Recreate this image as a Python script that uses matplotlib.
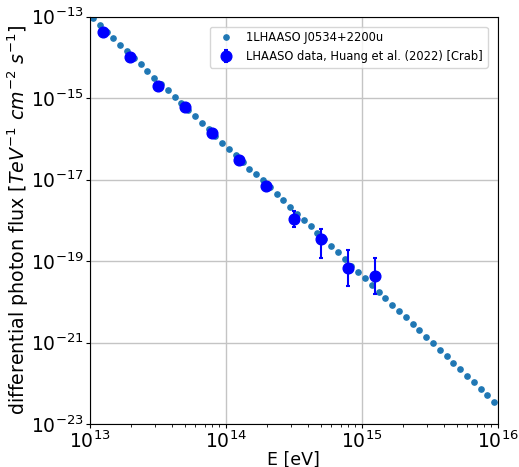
import numpy as np
import matplotlib
matplotlib.use("Agg")
import matplotlib.pyplot as plt

# 1LHAASO J0534+2200u spectral points (log10 E [eV], log10 flux)
model_log_e = [
    13.025, 13.075, 13.125, 13.175, 13.225, 13.275, 13.325, 13.375, 13.425, 13.475,
    13.525, 13.575, 13.625, 13.675, 13.725, 13.775, 13.825, 13.875, 13.925, 13.975,
    14.025, 14.075, 14.125, 14.175, 14.225, 14.275, 14.325, 14.375, 14.425, 14.475,
    14.525, 14.575, 14.625, 14.675, 14.725, 14.775, 14.825, 14.875, 14.925, 14.975,
    15.025, 15.075, 15.125, 15.175, 15.225, 15.275, 15.325, 15.375, 15.425, 15.475,
    15.525, 15.575, 15.625, 15.675, 15.725, 15.775, 15.825, 15.875, 15.925, 15.975,
]
model_log_flux = [
    -13.04, -13.21, -13.37, -13.52, -13.69, -13.85, -14.01, -14.17, -14.33, -14.50,
    -14.65, -14.81, -14.98, -15.13, -15.29, -15.45, -15.61, -15.76, -15.92, -16.09,
    -16.25, -16.40, -16.56, -16.73, -16.86, -17.02, -17.19, -17.35, -17.51, -17.66,
    -17.84, -18.00, -18.15, -18.32, -18.47, -18.62, -18.78, -18.95, -19.11, -19.26,
    -19.42, -19.58, -19.75, -19.91, -20.07, -20.23, -20.38, -20.54, -20.70, -20.86,
    -21.01, -21.18, -21.34, -21.50, -21.66, -21.81, -21.97, -22.13, -22.30, -22.45,
]

# LHAASO Crab points (Huang et al. 2022)
crab_log_e = [13.1, 13.3, 13.5, 13.7, 13.9, 14.1, 14.3, 14.5, 14.7, 14.9, 15.1]
crab_log_flux = [-13.38, -14.00, -14.70, -15.21, -15.86, -16.53, -17.15, -17.96, -18.47, -19.17, -19.37]
crab_log_hi = [-13.36, -13.98, -14.68, -15.19, -15.83, -16.49, -17.10, -17.78, -18.21, -18.74, -18.93]
crab_log_lo = [-13.40, -14.02, -14.72, -15.23, -15.89, -16.57, -17.21, -18.16, -18.92, -19.62, -19.80]


def main():
    e_model = 10 ** np.array(model_log_e)
    f_model = 10 ** np.array(model_log_flux)
    e_crab = 10 ** np.array(crab_log_e)
    f_crab = 10 ** np.array(crab_log_flux)
    yerr = np.vstack([f_crab - 10 ** np.array(crab_log_lo),
                      10 ** np.array(crab_log_hi) - f_crab])

    fig = plt.figure(figsize=(5.19, 4.67), dpi=100)
    ax = fig.add_axes([0.1728, 0.0921, 0.786, 0.8721])

    ax.plot(e_model, f_model, "o", color="#1f77b4", markersize=3.8,
            label="1LHAASO J0534+2200u")
    ax.errorbar(e_crab, f_crab, yerr=yerr, fmt="o", color="blue",
                markersize=7.7, elinewidth=1.5, capsize=1.6, capthick=1.5,
                label="LHAASO data, Huang et al. (2022) [Crab]")

    ax.set_xscale("log")
    ax.set_yscale("log")
    ax.set_xlim(1e13, 1e16)
    ax.set_ylim(1e-23, 1e-13)
    ax.set_yticks([1e-23, 1e-21, 1e-19, 1e-17, 1e-15, 1e-13])
    ax.grid(True, which="major", color="#c4c4c4", linewidth=1.0)
    ax.set_axisbelow(True)

    ax.tick_params(which="major", labelsize=13.5, pad=1.5, length=3)
    ax.tick_params(which="minor", length=2)
    ax.set_xlabel("E [eV]", fontsize=12.5, labelpad=-1)
    ax.set_ylabel(r"differential photon flux [$TeV^{-1}\ cm^{-2}\ s^{-1}$]",
                  fontsize=13.7, labelpad=0)

    ax.legend(loc="upper right", fontsize=8.3, framealpha=0.8,
              bbox_to_anchor=(0.99, 0.99))

    fig.savefig("out.png", dpi=100)
    plt.close(fig)


if __name__ == "__main__":
    main()
